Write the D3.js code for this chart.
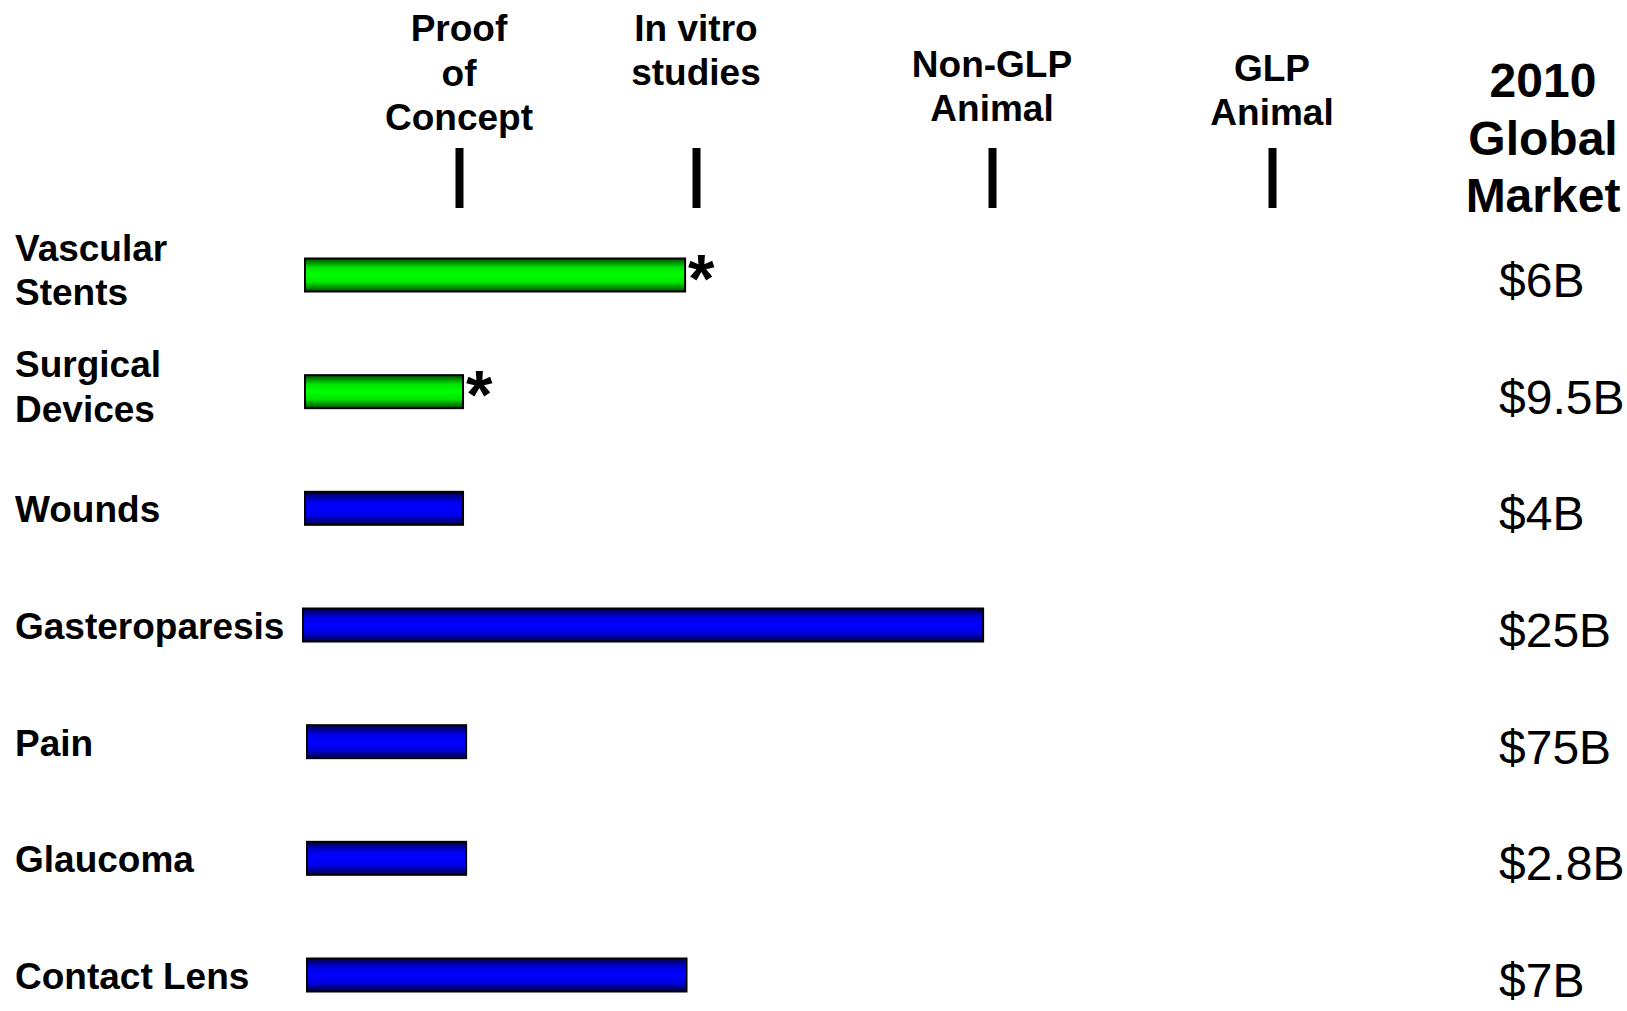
<!DOCTYPE html>
<html>
<head>
<meta charset="utf-8">
<script src="https://cdn.jsdelivr.net/npm/d3@7"></script>
<style>
  html, body { margin: 0; padding: 0; background: #fff; }
  svg { display: block; font-family: "Liberation Sans", Arial, sans-serif; }
</style>
</head>
<body>
<svg id="chart" width="1627" height="1011"></svg>
<script>
// Development pipeline by application area
const categories = ["Vascular\nStents", "Surgical\nDevices", "Wounds", "Gasteroparesis", "Pain", "Glaucoma", "Contact Lens"];
// Progress along the stage axis (0 = start, 1 = Proof of Concept, 2 = In vitro, 3 = Non-GLP, 4 = GLP)
const barStart = [0, 0, 0, -0.013, 0.013, 0.013, 0.013];
const barEnd = [1.954, 1.017, 1.017, 2.97, 1.03, 1.03, 1.96];
const barGroup = ["green", "green", "blue", "blue", "blue", "blue", "blue"];
const starred = [true, true, false, false, false, false, false];
const marketValues = ["$6B", "$9.5B", "$4B", "$25B", "$75B", "$2.8B", "$7B"];
const stageTicks = [1, 2, 3, 4];
const stageLabels = ["Proof\nof\nConcept", "In vitro\nstudies", "Non-GLP\nAnimal", "GLP\nAnimal"];
const marketTitle = "2010\nGlobal\nMarket";

const svg = d3.select("#chart");

// Stage axis: piecewise-linear so each stage lands under its heading
const x = d3.scaleLinear().domain([0, 1, 2, 3, 4]).range([305, 459, 696, 992, 1272]);
// Rows
const y = d3.scalePoint().domain(d3.range(categories.length)).range([275, 975]);
const barH = 33;

// Gradients for the bar fills (dark edges, bright centre)
const defs = svg.append("defs");
const grads = {
  green: ["#004d00", "#00e600", "#00ff00"],
  blue: ["#000048", "#0000e6", "#0000ff"]
};
Object.entries(grads).forEach(([k, c]) => {
  const g = defs.append("linearGradient").attr("id", "grad-" + k)
    .attr("x1", 0).attr("y1", 0).attr("x2", 0).attr("y2", 1);
  [[0, c[0]], [0.28, c[1]], [0.5, c[2]], [0.72, c[1]], [1, c[0]]].forEach(([o, col]) =>
    g.append("stop").attr("offset", o).attr("stop-color", col));
});

// Stage tick marks
const axis = d3.axisTop(x).tickValues(stageTicks).tickSize(60).tickFormat("");
const axG = svg.append("g").attr("transform", "translate(0,208)").call(axis);
axG.select(".domain").remove();
axG.selectAll(".tick line").attr("stroke", "#000").attr("stroke-width", 8);

// Stage headings (bottom-line baseline for each block)
const headBottom = [130, 85, 121, 125];
const lineGap = 44.5;
svg.append("g").selectAll("text").data(stageLabels).join("text")
  .attr("text-anchor", "middle")
  .attr("font-weight", "bold")
  .attr("font-size", 37)
  .attr("fill", "#000")
  .each(function (d, i) {
    const lines = d.split("\n");
    const t = d3.select(this);
    lines.forEach((ln, k) => {
      t.append("tspan")
        .attr("x", x(stageTicks[i]))
        .attr("y", headBottom[i] - (lines.length - 1 - k) * lineGap)
        .text(ln);
    });
  });

// Market column title
const mt = svg.append("text")
  .attr("text-anchor", "middle")
  .attr("font-weight", "bold")
  .attr("font-size", 48)
  .attr("fill", "#000");
marketTitle.split("\n").forEach((ln, k) => {
  mt.append("tspan").attr("x", 1543).attr("y", 97 + k * 57.5).text(ln);
});

// Row labels
svg.append("g").selectAll("text").data(categories).join("text")
  .attr("font-weight", "bold")
  .attr("font-size", 37)
  .attr("fill", "#000")
  .each(function (d, i) {
    const lines = d.split("\n");
    const t = d3.select(this);
    const off = lines.length > 1 ? 8 : 14;
    lines.forEach((ln, k) => {
      t.append("tspan")
        .attr("x", 15)
        .attr("y", y(i) + off + (k - (lines.length - 1) / 2) * lineGap)
        .text(ln);
    });
  });

// Bars
svg.append("g").selectAll("rect").data(categories).join("rect")
  .attr("x", (d, i) => x(barStart[i]))
  .attr("y", (d, i) => y(i) - barH / 2)
  .attr("width", (d, i) => x(barEnd[i]) - x(barStart[i]))
  .attr("height", barH)
  .attr("fill", (d, i) => `url(#grad-${barGroup[i]})`)
  .attr("stroke", "#000")
  .attr("stroke-width", 2);

// Asterisks on the highlighted bars
svg.append("g").selectAll("text").data(categories.filter((d, i) => starred[i]))
  .join("text")
  .attr("x", d => x(barEnd[categories.indexOf(d)]) + 3)
  .attr("y", d => y(categories.indexOf(d)) - barH / 2 + 43)
  .attr("font-weight", "bold")
  .attr("font-size", 68)
  .attr("fill", "#000")
  .text("*");

// Market size values
svg.append("g").selectAll("text").data(marketValues).join("text")
  .attr("x", 1499)
  .attr("y", (d, i) => y(i) + 22)
  .attr("font-size", 48)
  .attr("fill", "#000")
  .text(d => d);
</script>
</body>
</html>
